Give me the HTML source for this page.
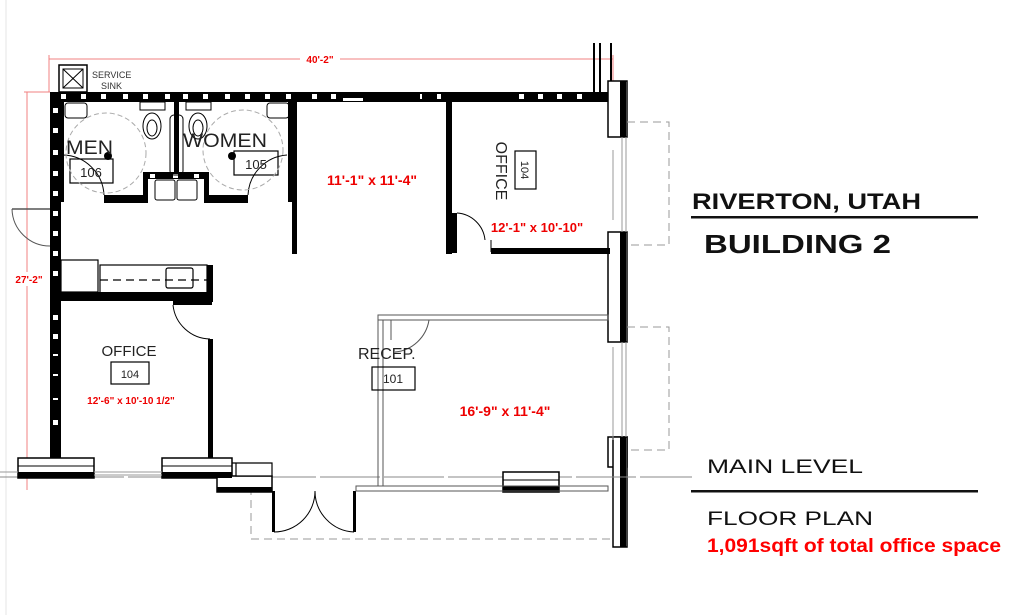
<!DOCTYPE html>
<html><head><meta charset="utf-8"><style>
html,body{margin:0;padding:0;background:#fff;}
svg{display:block;}
text{font-family:"Liberation Sans",Arial,sans-serif;}
</style></head><body>
<svg width="1024" height="615" viewBox="0 0 1024 615" xmlns="http://www.w3.org/2000/svg">
<rect width="1024" height="615" fill="#fff"/>
<line x1="6" y1="0" x2="6" y2="615" stroke="#e6e6e6" stroke-width="1"/>

<g stroke="#f08080" stroke-width="1" fill="none">
<line x1="49" y1="59" x2="613" y2="59"/>
<line x1="49" y1="55" x2="49" y2="92"/>
<line x1="613" y1="55" x2="613" y2="100"/>
<line x1="27" y1="92" x2="27" y2="490"/>
<line x1="24" y1="92" x2="50" y2="92"/>
</g>
<rect x="300" y="53" width="40" height="12" fill="#fff"/>
<text x="320" y="63" font-size="10" font-weight="bold" fill="#e00" text-anchor="middle">40'-2"</text>
<rect x="10" y="272" width="40" height="14" fill="#fff"/>
<text x="29" y="283" font-size="10" font-weight="bold" fill="#e00" text-anchor="middle">27'-2"</text>

<rect x="59" y="65" width="28" height="27" fill="#fff" stroke="#000" stroke-width="1.5"/>
<rect x="63" y="69" width="20" height="19" fill="none" stroke="#000" stroke-width="1"/>
<line x1="63" y1="69" x2="83" y2="88" stroke="#000"/><line x1="83" y1="69" x2="63" y2="88" stroke="#000"/>
<text x="92" y="78" font-size="9" fill="#333">SERVICE</text>
<text x="101" y="89" font-size="9" fill="#333">SINK</text>

<g stroke="#000" stroke-width="2">
<line x1="594" y1="43" x2="594" y2="95"/>
<line x1="600" y1="43" x2="600" y2="95"/>
<line x1="611" y1="43" x2="611" y2="95"/>
</g>

<rect x="50" y="92" width="560" height="10" fill="#000"/>
<rect x="50" y="92" width="11" height="366" fill="#000"/>
<g fill="#fff">
<rect x="61" y="94" width="5" height="5"/><rect x="81" y="94" width="5" height="5"/><rect x="101" y="94" width="5" height="5"/><rect x="123" y="94" width="5" height="5"/><rect x="143" y="94" width="5" height="5"/><rect x="165" y="94" width="5" height="5"/><rect x="183" y="94" width="5" height="5"/><rect x="203" y="94" width="5" height="5"/><rect x="225" y="94" width="5" height="5"/><rect x="245" y="94" width="5" height="5"/><rect x="265" y="94" width="5" height="5"/><rect x="286" y="94" width="5" height="5"/><rect x="312" y="94" width="5" height="5"/><rect x="331" y="94" width="5" height="5"/><rect x="437" y="94" width="4" height="5"/><rect x="519" y="94" width="5" height="5"/><rect x="538" y="94" width="5" height="5"/><rect x="557" y="94" width="5" height="5"/><rect x="577" y="94" width="5" height="5"/>
<rect x="420" y="94" width="2" height="5"/><rect x="520" y="94" width="2" height="5"/><rect x="343" y="98" width="20" height="3"/>
<rect x="53" y="108" width="5" height="5"/><rect x="53" y="128" width="5" height="5"/><rect x="53" y="150" width="5" height="5"/><rect x="53" y="171" width="5" height="5"/><rect x="53" y="191" width="5" height="5"/><rect x="53" y="211" width="5" height="5"/><rect x="53" y="231" width="5" height="5"/><rect x="53" y="251" width="5" height="5"/><rect x="53" y="271" width="5" height="5"/><rect x="53" y="295" width="5" height="5"/><rect x="53" y="315" width="5" height="5"/><rect x="53" y="334" width="5" height="5"/><rect x="53" y="354" width="5" height="2"/><rect x="53" y="374" width="5" height="2"/><rect x="53" y="420" width="5" height="5"/><rect x="53" y="398" width="5" height="2"/>
</g>
<line x1="12" y1="209" x2="50" y2="209" stroke="#555" stroke-width="1.5"/>
<path d="M12 209 A38 38 0 0 0 50 246" fill="none" stroke="#555" stroke-width="1"/>

<g stroke="#000" stroke-width="1.5" fill="#fff">
<rect x="608" y="81" width="19" height="56"/>
<rect x="608" y="232" width="19" height="110"/>
<rect x="608" y="437" width="19" height="30"/>
<rect x="613" y="437" width="14" height="110"/>
</g>
<g fill="#000"><rect x="620" y="81" width="6" height="56"/><rect x="620" y="232" width="6" height="110"/><rect x="620" y="437" width="6" height="110"/></g>
<g stroke="#999" stroke-width="1"><line x1="622" y1="137" x2="622" y2="232"/><line x1="626" y1="137" x2="626" y2="232"/><line x1="622" y1="342" x2="622" y2="437"/><line x1="626" y1="342" x2="626" y2="437"/><line x1="613" y1="150" x2="613" y2="220"/><line x1="613" y1="347" x2="613" y2="440"/></g>
<g stroke="#999" stroke-width="1" fill="none" stroke-dasharray="8,5">
<path d="M627 122 H669 V245 H627"/>
<path d="M627 327 H669 V450 H627"/>
<path d="M272 539 H251 V478 M251 539 H614"/>
</g>
<line x1="0" y1="477" x2="692" y2="477" stroke="#888" stroke-width="1" stroke-dasharray="60,4"/>

<g fill="#000">
<rect x="60" y="102" width="4" height="100"/>
<rect x="104" y="195" width="44" height="8"/>
<rect x="143" y="172" width="66" height="7"/>
<rect x="143" y="172" width="5" height="30"/>
<rect x="204" y="172" width="5" height="30"/>
<rect x="204" y="195" width="44" height="8"/>
<rect x="174" y="102" width="5" height="70"/>
<rect x="288" y="102" width="8" height="100"/>
<rect x="292" y="102" width="5" height="152"/>
</g>
<g fill="#fff"><rect x="150" y="174" width="5" height="4"/><rect x="173" y="174" width="5" height="4"/><rect x="194" y="174" width="5" height="4"/></g>
<g fill="none" stroke="#000" stroke-width="1">
<rect x="170" y="115" width="13" height="60" rx="4"/>
<rect x="155" y="180" width="20" height="20" rx="2"/><rect x="177" y="180" width="20" height="20" rx="2"/>
<rect x="65" y="103" width="22" height="15" rx="3"/><rect x="267" y="103" width="22" height="15" rx="3"/>
<ellipse cx="152" cy="126" rx="9" ry="13"/><ellipse cx="152" cy="128" rx="5" ry="8"/>
<ellipse cx="198" cy="126" rx="9" ry="13"/><ellipse cx="198" cy="128" rx="5" ry="8"/>
<rect x="140" y="102" width="25" height="8"/><rect x="186" y="102" width="25" height="8"/>
<rect x="70" y="159" width="43" height="24" stroke-width="1.2"/>
<rect x="234" y="151" width="44" height="24" stroke-width="1.2"/>
<path d="M63 155 A42 42 0 0 1 104 195"/>
<path d="M287 155 A42 42 0 0 0 248 195"/>
</g>
<g fill="none" stroke="#aaa" stroke-width="1" stroke-dasharray="5,3">
<circle cx="106" cy="153" r="40"/><circle cx="243" cy="150" r="40"/>
</g>
<circle cx="108" cy="156" r="4" fill="#000"/><circle cx="232" cy="156" r="4" fill="#000"/>
<text x="66" y="154" font-size="19" fill="#222" textLength="47" lengthAdjust="spacingAndGlyphs">MEN</text>
<text x="183" y="147" font-size="19" fill="#222" textLength="84" lengthAdjust="spacingAndGlyphs">WOMEN</text>
<text x="91" y="177" font-size="13" fill="#222" text-anchor="middle">106</text>
<text x="256" y="169" font-size="13" fill="#222" text-anchor="middle">105</text>

<g fill="none" stroke="#000" stroke-width="1.2">
<rect x="61" y="260" width="37" height="32"/>
<rect x="100" y="265" width="107" height="28"/>
<rect x="166" y="268" width="27" height="20" rx="2"/>
</g>
<line x1="100" y1="280" x2="207" y2="280" stroke="#000" stroke-width="1.2" stroke-dasharray="8,5"/>
<rect x="50" y="292" width="163" height="9" fill="#000"/>
<rect x="207" y="265" width="6" height="37" fill="#000"/>

<rect x="173" y="301" width="39" height="4" fill="#000"/>
<path d="M173 305 A38 38 0 0 0 210 339" fill="none" stroke="#000" stroke-width="1"/>
<rect x="208" y="339" width="5" height="120" fill="#000"/>
<text x="129" y="356" font-size="15" fill="#222" text-anchor="middle">OFFICE</text>
<rect x="111" y="362" width="38" height="22" fill="none" stroke="#000" stroke-width="1.2"/>
<text x="130" y="378" font-size="11" fill="#222" text-anchor="middle">104</text>
<text x="131" y="404" font-size="10" font-weight="bold" fill="#e00" text-anchor="middle">12'-6" x 10'-10 1/2"</text>

<g stroke="#000" stroke-width="1.5" fill="#fff">
<rect x="18" y="458" width="76" height="20"/>
<rect x="162" y="458" width="70" height="20"/>
<rect x="217" y="476" width="55" height="16"/>
<rect x="503" y="472" width="56" height="20"/>
</g>
<g fill="#000"><rect x="18" y="472" width="76" height="6"/><rect x="162" y="472" width="70" height="6"/><rect x="217" y="487" width="55" height="5"/><rect x="503" y="486" width="56" height="6"/></g>
<g stroke="#000" stroke-width="1"><line x1="18" y1="466" x2="94" y2="466"/><line x1="162" y1="466" x2="232" y2="466"/><line x1="503" y1="480" x2="559" y2="480"/></g>
<g stroke="#999" stroke-width="1"><line x1="0" y1="472" x2="18" y2="472"/><line x1="94" y1="472" x2="162" y2="472"/><line x1="94" y1="475" x2="162" y2="475"/></g>
<path d="M232 463 H236 V476 H272 V463 Z" fill="#fff" stroke="#000" stroke-width="1.2"/>

<rect x="272" y="491" width="3" height="41" fill="#000"/>
<rect x="353" y="491" width="3" height="41" fill="#000"/>
<g fill="none" stroke="#000" stroke-width="1">
<path d="M274 532 A41 41 0 0 0 315 491"/>
<path d="M354 532 A41 41 0 0 1 315 491"/>
</g>

<g fill="none" stroke="#555" stroke-width="1">
<rect x="378" y="315" width="230" height="5"/>
<rect x="378" y="320" width="5" height="166"/>
<rect x="356" y="486" width="252" height="5"/>
<line x1="391" y1="320" x2="391" y2="340"/>
<path d="M429 320 A38 38 0 0 1 395 352"/>
</g>
<text x="358" y="359" font-size="16" fill="#222">RECEP.</text>
<rect x="372" y="367" width="43" height="23" fill="none" stroke="#000" stroke-width="1.2"/>
<text x="393" y="383" font-size="12" fill="#222" text-anchor="middle">101</text>
<text x="505" y="416" font-size="14" font-weight="bold" fill="#e00" text-anchor="middle">16'-9" x 11'-4"</text>

<rect x="446" y="102" width="6" height="152" fill="#000"/>
<rect x="452" y="213" width="5" height="40" fill="#000"/>
<path d="M457 213 A30 30 0 0 1 485 240" fill="none" stroke="#000" stroke-width="1"/>
<line x1="491" y1="240" x2="491" y2="252" stroke="#000" stroke-width="1"/>
<rect x="491" y="248" width="119" height="6" fill="#000"/>
<text x="372" y="185" font-size="14" font-weight="bold" fill="#e00" text-anchor="middle">11'-1" x 11'-4"</text>
<text x="537" y="232" font-size="13" font-weight="bold" fill="#e00" text-anchor="middle">12'-1" x 10'-10"</text>
<text transform="translate(496,171) rotate(90)" font-size="16" fill="#222" text-anchor="middle">OFFICE</text>
<rect x="515" y="151" width="21" height="38" fill="none" stroke="#000" stroke-width="1.2"/>
<text transform="translate(521,170) rotate(90)" font-size="11" fill="#222" text-anchor="middle">104</text>

<text x="692" y="209" font-size="22" font-weight="bold" fill="#111" textLength="229" lengthAdjust="spacingAndGlyphs">RIVERTON, UTAH</text>
<rect x="691" y="216" width="287" height="2.5" fill="#111"/>
<text x="704" y="253" font-size="26" font-weight="bold" fill="#111" textLength="187" lengthAdjust="spacingAndGlyphs">BUILDING 2</text>
<text x="707" y="473" font-size="19" fill="#111" textLength="156" lengthAdjust="spacingAndGlyphs">MAIN LEVEL</text>
<rect x="691" y="490" width="287" height="2.5" fill="#111"/>
<text x="707" y="525" font-size="19" fill="#111" textLength="166" lengthAdjust="spacingAndGlyphs">FLOOR PLAN</text>
<text x="707" y="552" font-size="19" font-weight="bold" fill="#f00" textLength="294" lengthAdjust="spacingAndGlyphs">1,091sqft of total office space</text>
</svg>
</body></html>
